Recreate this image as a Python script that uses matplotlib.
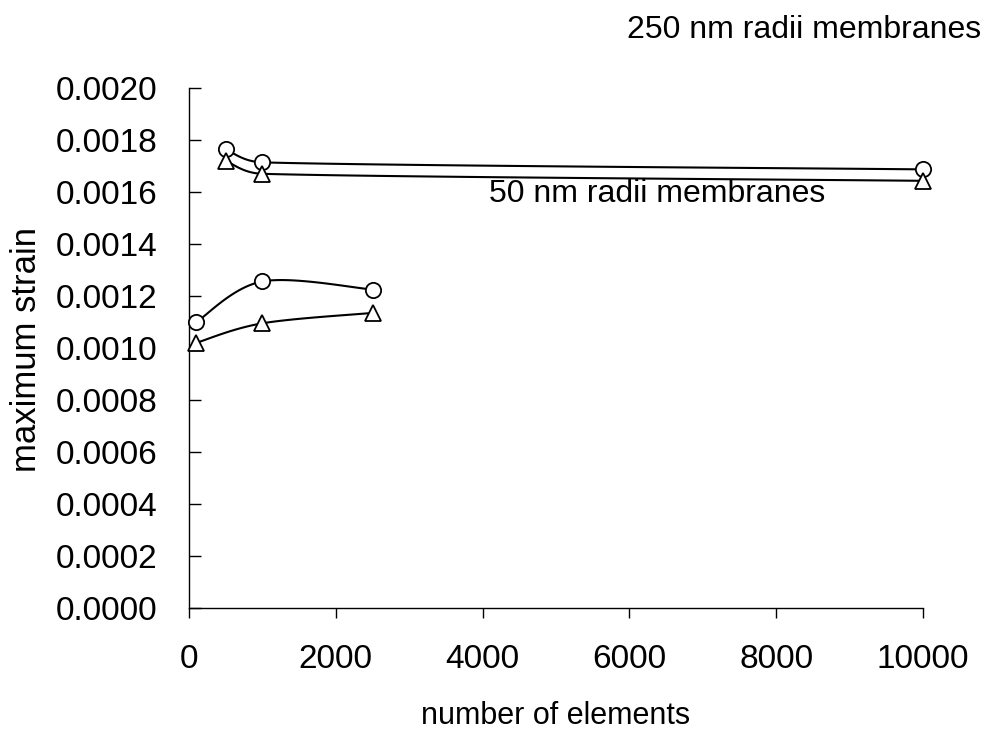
import numpy as np
import matplotlib
matplotlib.use("Agg")
import matplotlib.pyplot as plt

plt.rcParams['font.family'] = ['Liberation Sans', 'DejaVu Sans']

# 250 nm radii membranes
x_250 = [500, 1000, 10000]
circ_250 = [0.001764, 0.001714, 0.001687]
tri_250 = [0.001720, 0.001670, 0.001643]

# 50 nm radii membranes
x_50 = [100, 1000, 2500]
circ_50 = [0.001100, 0.001256, 0.001225]
tri_50 = [0.001020, 0.001095, 0.001135]

x_ticks = [0, 2000, 4000, 6000, 8000, 10000]
y_ticks = [0.0000, 0.0002, 0.0004, 0.0006, 0.0008, 0.0010,
           0.0012, 0.0014, 0.0016, 0.0018, 0.0020]

W, H = 989, 735
fig = plt.figure(figsize=(W / 100, H / 100), dpi=100)
ax = fig.add_axes([189 / W, (H - 608) / H, (923 - 189) / W, (608 - 88) / H])
ax.set_xlim(0, 10000)
ax.set_ylim(0, 0.0020)
ax.set_xticks(x_ticks)
ax.set_yticks(y_ticks)
ax.set_xticklabels([str(t) for t in x_ticks])
ax.set_yticklabels([f"{t:.4f}" for t in y_ticks])
for s in ("top", "right"):
    ax.spines[s].set_visible(False)
for s in ("left", "bottom"):
    ax.spines[s].set_linewidth(1.0)
ax.tick_params(labelsize=24, width=1.0)
ax.tick_params(axis="y", direction="in", length=8.5, pad=23)
ax.tick_params(axis="x", direction="out", length=7, pad=19)


def smooth_curve(xs, ys, n=60):
    """Piecewise cubic Bezier in display space; control arms are 1/6 of the
    neighbour chord, capped at half of the segment length."""
    pts = ax.transData.transform(np.column_stack([xs, ys]))
    out = [pts[0]]
    m = len(pts)
    for i in range(m - 1):
        p0 = pts[i - 1] if i > 0 else pts[i]
        p1 = pts[i]
        p2 = pts[i + 1]
        p3 = pts[i + 2] if i + 2 < m else pts[i + 1]
        d12 = np.hypot(*(p2 - p1))
        d02 = np.hypot(*(p2 - p0))
        d13 = np.hypot(*(p3 - p1))
        f1 = min(1 / 6, d12 / (2 * d02)) if d02 > 0 else 0
        f2 = min(1 / 6, d12 / (2 * d13)) if d13 > 0 else 0
        c1 = p1 + (p2 - p0) * f1
        c2 = p2 - (p3 - p1) * f2
        t = np.linspace(0, 1, n)[1:, None]
        seg = ((1 - t) ** 3) * p1 + 3 * ((1 - t) ** 2) * t * c1 \
            + 3 * (1 - t) * t ** 2 * c2 + t ** 3 * p2
        out.extend(seg)
    out = np.array(out)
    return ax.transData.inverted().transform(out)


def draw_series(xs, ys, marker, size):
    c = smooth_curve(xs, ys)
    ax.plot(c[:, 0], c[:, 1], color="black", lw=1.5, zorder=2,
            clip_on=False, solid_capstyle="round")
    ax.plot(xs, ys, linestyle="none", marker=marker, markersize=size,
            markerfacecolor="white", markeredgecolor="black",
            markeredgewidth=1.3, zorder=3, clip_on=False)


draw_series(x_250, circ_250, "o", 11)
draw_series(x_250, tri_250, "^", 12)
draw_series(x_50, circ_50, "o", 11)
draw_series(x_50, tri_50, "^", 12)

ax.text(4090, 0.00156, "50 nm radii membranes", fontsize=23,
        ha="left", va="baseline")
fig.text(981 / W, 1 - 38 / H, "250 nm radii membranes", fontsize=23,
         ha="right", va="baseline")

fig.text(27 / W, 1 - 350 / H, "maximum strain", fontsize=25,
         rotation=90, ha="center", va="center")
fig.text(556 / W, 1 - 724 / H, "number of elements", fontsize=22,
         ha="center", va="baseline")

fig.savefig("out.png", dpi=100)
